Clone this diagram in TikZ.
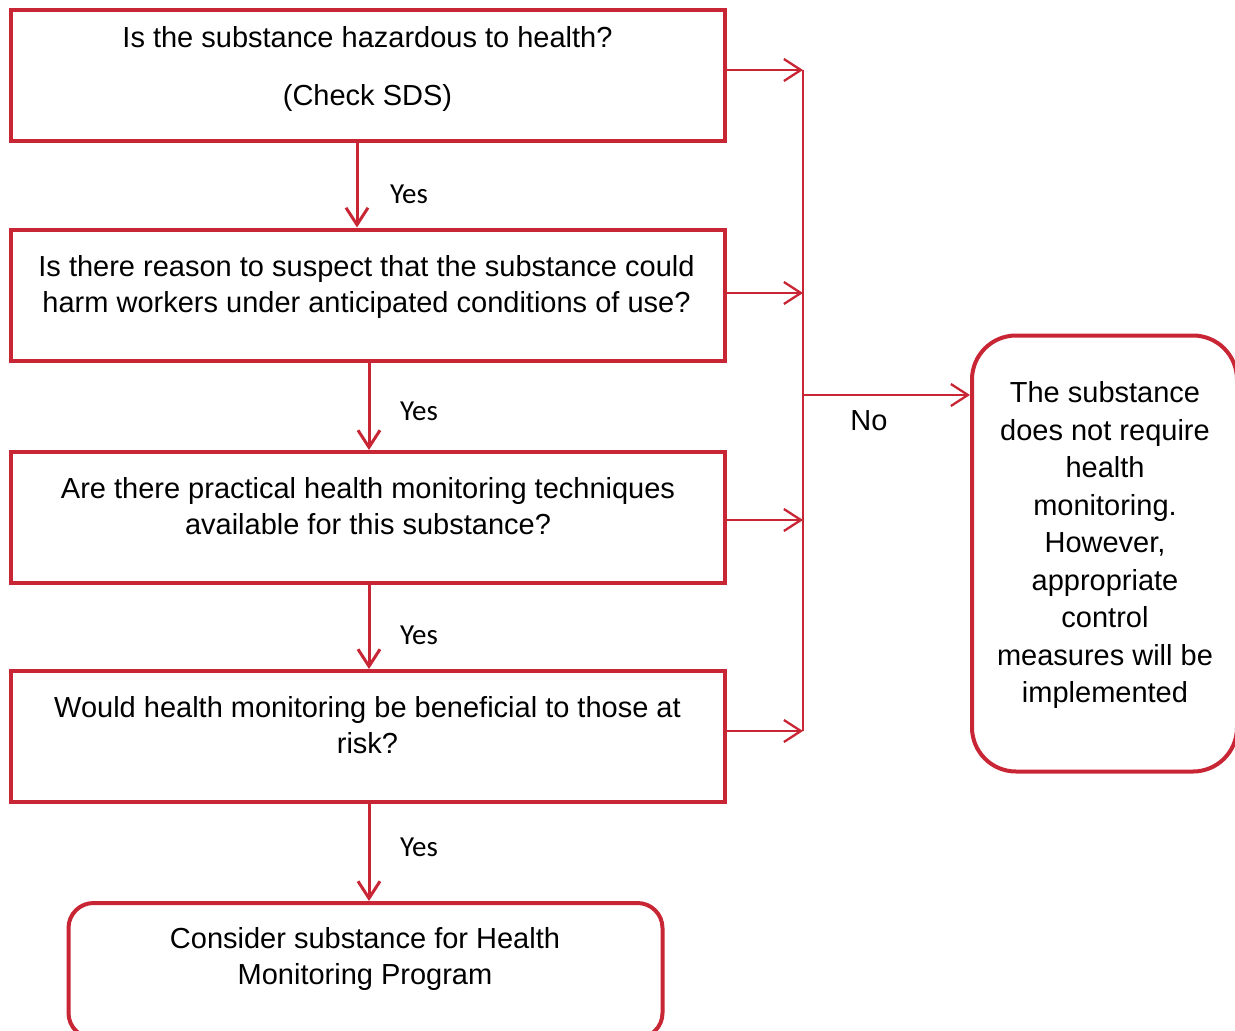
\documentclass[tikz,border=0pt]{standalone}
\usepackage{fontspec}
\setmainfont{Liberation Sans}
\newfontfamily\yesfont{Carlito}
\usetikzlibrary{arrows.meta}
\definecolor{fred}{RGB}{200,38,52}
\begin{document}
\begin{tikzpicture}[x=1pt,y=-1pt,
  box/.style={draw=fred,line width=4pt,minimum width=714pt,minimum height=131pt,inner sep=0pt},
  rbox/.style={draw=fred,line width=4pt,rounded corners=#1,inner sep=0pt},
  txt/.style={align=center,font=\fontsize{29}{36}\selectfont,inner sep=0pt},
  rtxt/.style={align=center,font=\fontsize{29}{37.5}\selectfont,inner sep=0pt},
  yes/.style={font=\yesfont\fontsize{29}{36}\selectfont,inner sep=0pt},
  arr/.style={draw=fred,line width=2.3pt,-{Straight Barb[length=17pt,width=22pt,line width=2.3pt]}},
  darr/.style={draw=fred,line width=3pt,-{Straight Barb[length=17pt,width=22pt,line width=3pt]}},
  conn/.style={draw=fred,line width=2.3pt}]
\clip (0,0) rectangle (1235,1031);
\useasboundingbox (0,0) rectangle (1235,1031);
% boxes
\node[box] (b1) at (367.5,75) {};
\node[txt] (t1) at (367.5,69) {Is the substance hazardous to health?\\[22pt](Check SDS)};
\node[box] (b2) at (367.5,295) {};
\node[txt] (t2) at (366.5,287) {Is there reason to suspect that the substance could\\harm workers under anticipated conditions of use?};
\node[box] (b3) at (368,517.5) {};
\node[txt] (t3) at (368,506) {Are there practical health monitoring techniques\\available for this substance?};
\node[box] (b4) at (367.5,736.5) {};
\node[txt] (t4) at (367.5,725) {Would health monitoring be beneficial to those at\\risk?};
\node[rbox=25pt,minimum width=594pt,minimum height=135pt] (b5) at (365.5,970.5) {};
\node[txt] (t5) at (365,959) {Consider substance for Health\\Monitoring Program};
\node[rbox=44pt,minimum width=265pt,minimum height=436pt] (r) at (1104.5,553.5) {};
\node[rtxt] (rt) at (1105,545) {The substance\\does not require\\health\\monitoring.\\However,\\appropriate\\control\\measures will be\\implemented};
% connector points
\coordinate (j1) at (803,70);
\coordinate (j2) at (803,293);
\coordinate (j3) at (803,520);
\coordinate (j4) at (803,731);
\coordinate (jn) at (803,395);
\coordinate (d1) at (357,0);
\coordinate (d2) at (369,0);
\draw[conn] (j1) -- (j4);
\draw[arr] (b1.east |- j1) -- (j1);
\draw[arr] (b2.east |- j2) -- (j2);
\draw[arr] (b3.east |- j3) -- (j3);
\draw[arr] (b4.east |- j4) -- (j4);
\draw[arr] (jn) -- (r.west |- jn);
\draw[darr] (b1.south -| d1) -- (b2.north -| d1);
\draw[darr] (b2.south -| d2) -- (b3.north -| d2);
\draw[darr] (b3.south -| d2) -- (b4.north -| d2);
\draw[darr] (b4.south -| d2) -- (b5.north -| d2);
% labels
\node[yes] (y1) at (409,194) {Yes};
\node[yes] (y2) at (419,411) {Yes};
\node[yes] (y3) at (419,635) {Yes};
\node[yes] (y4) at (419,847) {Yes};
\node[txt] (no) at (869,421) {No};
\end{tikzpicture}
\end{document}
